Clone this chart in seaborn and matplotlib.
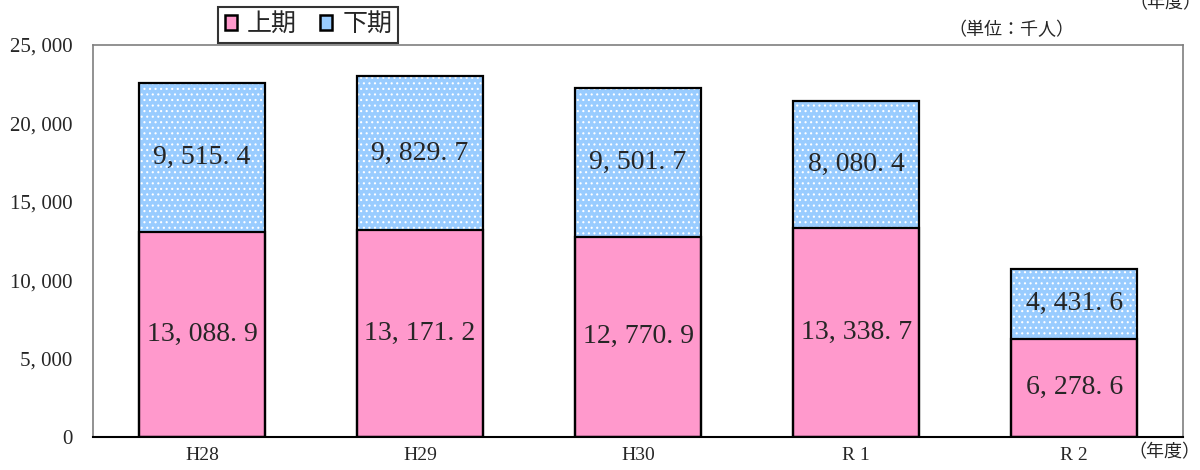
import numpy as np
import pandas as pd
import matplotlib.pyplot as plt
import seaborn as sns
from matplotlib.patches import Rectangle

# 年度別 上期・下期 (単位：千人)
nendo = ['H28', 'H29', 'H30', 'R 1', 'R 2']
kamiki = [13088.9, 13171.2, 12770.9, 13338.7, 6278.6]
shimoki = [9515.4, 9829.7, 9501.7, 8080.4, 4431.6]
y_ticks = [0, 5000, 10000, 15000, 20000, 25000]

PINK = '#FF99CC'
BLUE = '#99CCFF'

sns.set_style('white')
plt.rcParams['font.family'] = ['Liberation Serif', 'Noto Sans CJK JP']
plt.rcParams['hatch.linewidth'] = 0.8

df = pd.DataFrame({'年度': nendo, '上期': kamiki, '下期': shimoki})
df['合計'] = df['上期'] + df['下期']


def fmt(v):
    # 画像のように区切りの後に空白を入れる
    s = f'{v:,.1f}'
    return s.replace(',', ', ').replace('.', '. ')


fig = plt.figure(figsize=(12, 4.7), dpi=100)
ax = fig.add_axes([0.0775, 0.0702, 0.9085, 0.834])

# 下期（合計の高さで描いて上に上期を重ねる）
sns.barplot(data=df, x='年度', y='合計', color=BLUE, saturation=1,
            width=0.575, ax=ax, edgecolor='white', linewidth=0, hatch='...')
sns.barplot(data=df, x='年度', y='上期', color=PINK, saturation=1,
            width=0.575, ax=ax, linewidth=0)

# 枠線
for p in list(ax.patches):
    ax.add_patch(Rectangle(p.get_xy(), p.get_width(), p.get_height(),
                           fill=False, edgecolor='black', linewidth=1.6, zorder=3))

for i, row in df.iterrows():
    ax.text(i, row['上期'] / 2, fmt(row['上期']), ha='center', va='center',
            fontsize=20, zorder=4)
    ax.text(i, row['上期'] + row['下期'] / 2, fmt(row['下期']), ha='center',
            va='center', fontsize=20, zorder=4)

ax.set_ylim(0, 25000)
ax.set_xlim(-0.5, len(nendo) - 0.5)
ax.set_yticks(y_ticks)
ax.set_yticklabels([f'{t:,}'.replace(',', ', ') for t in y_ticks], fontsize=15)
ax.set_xticks(range(len(nendo)))
ax.set_xticklabels(nendo, fontsize=14)
ax.tick_params(axis='y', length=0, pad=15)
ax.tick_params(axis='x', length=0, pad=7)
ax.set_xlabel('')
ax.set_ylabel('')

for side in ['left', 'top', 'right']:
    ax.spines[side].set_color('#7f7f7f')
    ax.spines[side].set_linewidth(1.2)
ax.spines['bottom'].set_color('black')
ax.spines['bottom'].set_linewidth(1.5)

# 凡例
handles = [Rectangle((0, 0), 1, 1, facecolor=PINK, edgecolor='black', linewidth=1.8),
           Rectangle((0, 0), 1, 1, facecolor=BLUE, edgecolor='black', linewidth=1.8)]
leg = fig.legend(handles, ['上期', '下期'], loc='upper left',
                 bbox_to_anchor=(0.182, 0.985), ncol=2, frameon=True,
                 fancybox=False, edgecolor='black', fontsize=18,
                 handlelength=0.5, handleheight=0.5, handletextpad=0.4,
                 columnspacing=0.9, borderpad=0.25, borderaxespad=0)
leg.get_frame().set_linewidth(1.5)

fig.text(0.843, 0.935, '（単位：千人）', ha='center', va='center', fontsize=13)
fig.text(0.971, 0.992, '（年度）', ha='center', va='center', fontsize=13)
fig.text(0.970, 0.036, '（年度）', ha='center', va='center', fontsize=13)

fig.savefig('out.png', dpi=100)
